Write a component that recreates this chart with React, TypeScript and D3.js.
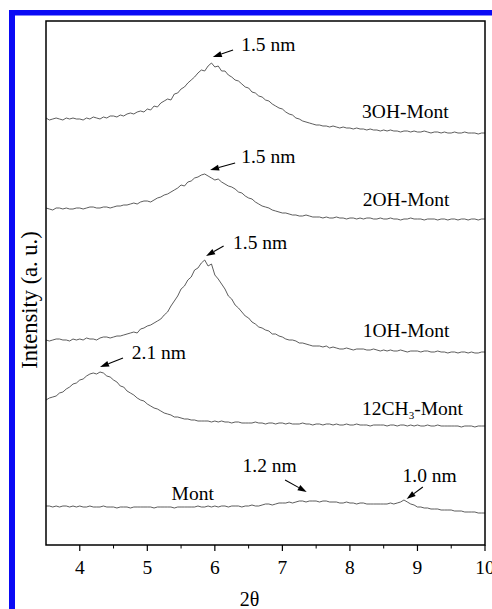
import React from 'react';
import * as d3 from 'd3';

// 2θ sampling grid, 3.5 .. 10.0 every 0.05
const twoTheta = d3.range(70, 201).map((d) => d / 20);

// intensities (arbitrary units, traces already offset as in the figure)
const mont3OH = [
  427, 425, 426, 427, 426, 425, 427, 426, 427, 426,
  426, 425, 427, 426, 428, 427, 426, 428, 427, 429,
  429, 428, 430, 429, 431, 432, 431, 433, 434, 433,
  436, 435, 439, 438, 442, 444, 446, 445, 451, 452,
  456, 458, 462, 465, 468, 472, 475, 474, 479, 482,
  478, 479, 474, 474, 470, 468, 465, 464, 461, 458,
  457, 453, 452, 449, 448, 445, 444, 441, 439, 437,
  436, 433, 431, 430, 427, 426, 424, 423, 422, 421,
  420, 420, 419, 419, 418, 419, 418, 417, 418, 417,
  417, 416, 417, 416, 416, 415, 416, 415, 415, 414,
  415, 414, 415, 414, 414, 413, 414, 414, 413, 414,
  413, 413, 414, 413, 412, 413, 413, 412, 413, 412,
  412, 413, 412, 412, 413, 412, 412, 412, 411, 412,
  412,
];
const mont2OH = [
  337, 336, 335, 337, 337, 336, 337, 336, 336, 337,
  337, 336, 337, 338, 338, 337, 337, 338, 338, 337,
  338, 339, 339, 340, 340, 341, 342, 341, 343, 344,
  344, 343, 345, 347, 348, 350, 351, 353, 355, 357,
  360, 359, 363, 364, 367, 368, 370, 371, 369, 367,
  365, 366, 363, 361, 359, 358, 356, 353, 352, 349,
  347, 346, 343, 341, 339, 338, 337, 335, 334, 333,
  332, 332, 331, 330, 330, 329, 329, 330, 329, 328,
  328, 328, 327, 328, 327, 327, 328, 327, 327, 326,
  327, 327, 326, 327, 326, 327, 327, 326, 326, 327,
  326, 326, 327, 326, 326, 325, 326, 326, 327, 326,
  326, 326, 325, 326, 326, 326, 325, 326, 326, 325,
  326, 326, 325, 326, 326, 325, 326, 326, 325, 326,
  326,
];
const mont1OH = [
  205, 204, 205, 206, 206, 205, 205, 204, 206, 205,
  206, 205, 207, 206, 206, 205, 207, 208, 208, 207,
  208, 209, 209, 210, 211, 212, 213, 212, 216, 217,
  219, 220, 222, 224, 226, 230, 233, 239, 244, 249,
  256, 259, 265, 268, 275, 277, 282, 285, 279, 281,
  270, 266, 261, 256, 249, 246, 240, 237, 233, 229,
  227, 223, 221, 218, 217, 215, 214, 211, 211, 209,
  208, 206, 205, 205, 204, 202, 202, 201, 200, 199,
  199, 199, 198, 199, 197, 198, 197, 196, 196, 197,
  196, 195, 196, 196, 196, 195, 195, 196, 195, 194,
  195, 194, 195, 194, 194, 195, 194, 193, 194, 194,
  194, 193, 194, 194, 193, 193, 194, 193, 193, 192,
  193, 193, 192, 193, 193, 192, 193, 192, 192, 193,
  193,
];
const mont12CH3 = [
  145, 147, 148, 149, 152, 153, 156, 158, 161, 162,
  165, 166, 169, 171, 172, 171, 173, 172, 169, 168,
  165, 163, 159, 158, 154, 152, 150, 147, 145, 144,
  141, 139, 137, 136, 134, 132, 131, 130, 128, 128,
  127, 126, 126, 125, 125, 124, 124, 124, 124, 123,
  124, 123, 124, 123, 123, 122, 123, 123, 122, 122,
  122, 122, 123, 122, 122, 121, 122, 122, 121, 122,
  122, 121, 122, 121, 121, 121, 122, 121, 121, 120,
  121, 121, 120, 121, 121, 120, 121, 120, 120, 121,
  120, 120, 121, 120, 120, 120, 119, 120, 120, 120,
  120, 119, 120, 120, 119, 120, 120, 119, 120, 119,
  120, 119, 119, 120, 119, 119, 120, 119, 119, 119,
  119, 119, 119, 118, 119, 119, 119, 118, 119, 119,
  119,
];
const montRaw = [
  39, 39, 38, 39, 38, 39, 39, 38, 39, 38,
  39, 38, 38, 39, 38, 38, 38, 39, 38, 38,
  38, 37, 38, 38, 38, 37, 38, 38, 38, 38,
  38, 38, 37, 38, 38, 38, 38, 38, 37, 38,
  38, 38, 38, 38, 38, 39, 38, 38, 39, 38,
  39, 38, 39, 39, 38, 39, 39, 39, 38, 39,
  39, 40, 39, 39, 40, 41, 41, 40, 41, 42,
  42, 42, 43, 42, 43, 44, 44, 43, 44, 44,
  44, 43, 44, 44, 43, 43, 43, 42, 42, 43,
  42, 42, 41, 42, 42, 41, 41, 41, 41, 41,
  41, 41, 42, 41, 42, 43, 45, 43, 41, 40,
  38, 38, 37, 37, 36, 36, 36, 35, 35, 35,
  35, 34, 34, 34, 33, 33, 33, 33, 32, 32,
  32,
];

const traces = [mont3OH, mont2OH, mont1OH, mont12CH3, montRaw];

// sample names [2θ, intensity]
const sampleNames = ['3OH-Mont', '2OH-Mont', '1OH-Mont', '12CH', 'Mont'];
const sampleNamePos = [[8.18, 427], [8.19, 339], [8.19, 208], [8.18, 130], [5.36, 45]];

// d-spacing labels and their arrows [2θ, intensity]
const spacingLabels = ['1.5 nm', '1.5 nm', '1.5 nm', '2.1 nm', '1.2 nm', '1.0 nm'];
const spacingLabelPos = [[6.39, 494], [6.39, 382], [6.27, 296], [4.77, 186], [6.41, 73], [8.78, 63]];
const arrowTail = [[6.27, 495], [6.3, 382], [6.13, 299], [4.64, 187], [7.04, 65], [9.08, 58]];
const arrowTip = [[5.97, 488], [5.93, 375], [5.87, 289], [4.3, 178], [7.36, 53], [8.84, 46]];

const majorTicks = [4, 5, 6, 7, 8, 9, 10];
const minorTicks = [4.5, 5.5, 6.5, 7.5, 8.5, 9.5];

const margin = { top: 21, right: 7, bottom: 64, left: 46 };
const W = 492;
const H = 609;
const width = W - margin.left - margin.right;
const height = H - margin.top - margin.bottom;
const font = '"Liberation Serif", "Times New Roman", serif';

export default function App() {
  const x = d3.scaleLinear().domain([3.5, 10]).range([0, width]);
  const y = d3.scaleLinear().domain([0, height]).range([height, 0]);

  const line = d3
    .line<number>()
    .x((_, i) => x(twoTheta[i]))
    .y((d) => y(d));

  const arrowHead = (i: number) => {
    const [tx, ty] = [x(arrowTip[i][0]), y(arrowTip[i][1])];
    const [sx, sy] = [x(arrowTail[i][0]), y(arrowTail[i][1])];
    const a = Math.atan2(ty - sy, tx - sx);
    const len = 9, half = 3;
    const bx = tx - len * Math.cos(a), by = ty - len * Math.sin(a);
    const px = -Math.sin(a) * half, py = Math.cos(a) * half;
    return {
      line: [sx, sy, bx, by],
      head: `${tx},${ty} ${bx + px},${by + py} ${bx - px},${by - py}`,
    };
  };

  return (
    <svg width={W} height={H} style={{ position: 'absolute', left: 0, top: 0, background: '#fff' }}>
      {/* blue page frame */}
      <rect x={9} y={10} width={6} height={H - 10} fill="#0a0af5" />
      <rect x={9} y={10} width={W - 9} height={5.5} fill="#0a0af5" />

      <g transform={`translate(${margin.left},${margin.top})`}>
        {traces.map((t, k) => (
          <path key={k} d={line(t) ?? ''} fill="none" stroke="#333" strokeWidth={0.8} />
        ))}

        <rect x={0} y={0} width={width} height={height} fill="none" stroke="#000" strokeWidth={1.5} />

        {majorTicks.map((t) => (
          <g key={t} transform={`translate(${x(t)},${height})`}>
            <line y2={6} stroke="#000" strokeWidth={1.2} />
            <text y={29} textAnchor="middle" fontFamily={font} fontSize={19.5}>{t}</text>
          </g>
        ))}
        {minorTicks.map((t) => (
          <line key={t} x1={x(t)} x2={x(t)} y1={height} y2={height + 3.5} stroke="#000" strokeWidth={1} />
        ))}

        {sampleNames.map((n, i) => (
          <text key={n} x={x(sampleNamePos[i][0])} y={y(sampleNamePos[i][1])} fontFamily={font} fontSize={19.5}>
            {n}
            {n === '12CH' && (
              <>
                <tspan dy={4} fontSize={11}>3</tspan>
                <tspan dy={-4}>-Mont</tspan>
              </>
            )}
          </text>
        ))}

        {spacingLabels.map((s, i) => {
          const a = arrowHead(i);
          return (
            <g key={i}>
              <text x={x(spacingLabelPos[i][0])} y={y(spacingLabelPos[i][1])} fontFamily={font} fontSize={19.5}>{s}</text>
              <line x1={a.line[0]} y1={a.line[1]} x2={a.line[2]} y2={a.line[3]} stroke="#000" strokeWidth={1.1} />
              <polygon points={a.head} fill="#000" />
            </g>
          );
        })}

        <text x={width / 2 - 16} y={height + 61} textAnchor="middle" fontFamily={font} fontSize={20}>2θ</text>
      </g>

      <text transform="translate(37,300) rotate(-90)" textAnchor="middle" fontFamily={font} fontSize={22.5}>
        Intensity (a. u.)
      </text>
    </svg>
  );
}
